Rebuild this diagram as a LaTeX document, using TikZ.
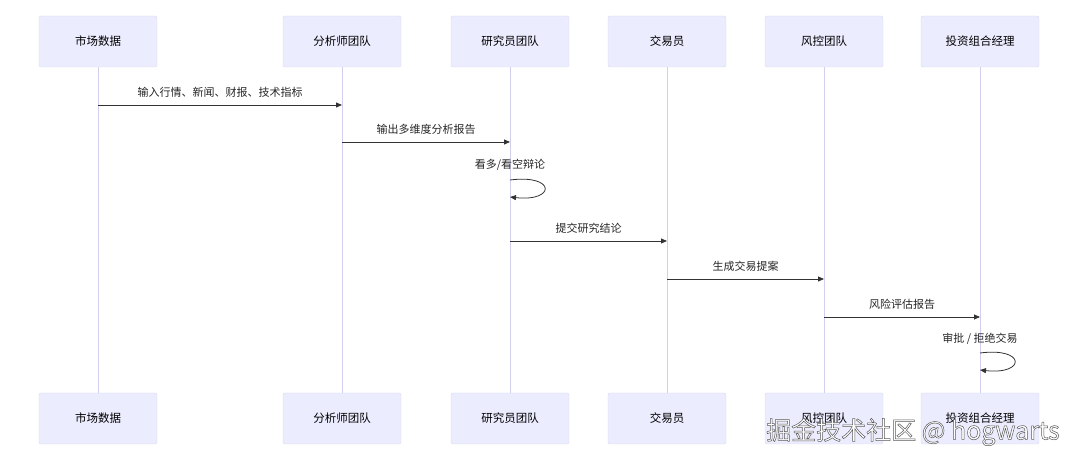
\documentclass[tikz,border=0pt]{standalone}
\usepackage{fontspec}
\newfontfamily\cjk{Noto Sans CJK SC}
\usetikzlibrary{positioning,arrows.meta}
\definecolor{boxfill}{HTML}{ECECFF}
\definecolor{boxline}{HTML}{D8D8F0}
\definecolor{lifeline}{HTML}{D0D0EE}
\definecolor{msgline}{HTML}{333333}
\tikzset{
	actor/.style={draw=boxline,fill=boxfill,rounded corners=2pt,minimum width=118pt,minimum height=51pt,font=\cjk\fontsize{11.5pt}{13pt}\selectfont,text=black},
	msg/.style={draw=msgline,line width=0.8pt,-{Triangle[length=6pt,width=5pt]}},
	lbl/.style={font=\cjk\fontsize{11pt}{13pt}\selectfont,text=black!85}
}
\begin{document}
\begin{tikzpicture}[x=1pt,y=-1pt]
	\useasboundingbox (0,0) rectangle (1080,462);
	\foreach \n/\x/\t in {mkt/98/市场数据,ana/342/分析师团队,res/510/研究员团队,trd/667/交易员,risk/824/风控团队,pm/980/投资组合经理}{
		\node[actor] (\n-top) at (\x,41.5) {\t};
		\node[actor] (\n-bot) at (\x,418.5) {\t};
		\draw[lifeline,line width=0.8pt] (\n-top) -- (\n-bot);
	}
	% messages
	\coordinate (m1a) at (98,105); \coordinate (m1b) at (342,105);
	\draw[msg] (m1a) -- node[lbl,above=4pt] {输入行情、新闻、财报、技术指标} (m1b);
	\coordinate (m2a) at (342,142); \coordinate (m2b) at (510,142);
	\draw[msg] (m2a) -- node[lbl,above=4pt] {输出多维度分析报告} (m2b);
	\coordinate (s1) at (510,180); \coordinate (s1e) at (510,197);
	\node[lbl] (s1l) at (510,165) {看多/看空辩论};
	\draw[msg] (s1) .. controls (556,174) and (556,202) .. (s1e);
	\coordinate (m3a) at (510,241); \coordinate (m3b) at (667,241);
	\draw[msg] (m3a) -- node[lbl,above=4pt] {提交研究结论} (m3b);
	\coordinate (m4a) at (667,279); \coordinate (m4b) at (824,279);
	\draw[msg] (m4a) -- node[lbl,above=4pt] {生成交易提案} (m4b);
	\coordinate (m5a) at (824,317); \coordinate (m5b) at (980,317);
	\draw[msg] (m5a) -- node[lbl,above=4pt] {风险评估报告} (m5b);
	\coordinate (s2) at (980,353); \coordinate (s2e) at (980,370);
	\node[lbl] (s2l) at (980,339) {审批 / 拒绝交易};
	\draw[msg] (s2) .. controls (1026,347) and (1026,375) .. (s2e);
	% watermark
	\node[font=\cjk\fontsize{25pt}{28pt}\selectfont,text=white,anchor=west,inner sep=0pt] (wm) at (766,432) {\special{pdf:literal 2 Tr 0.5 w 0.35 G}掘金技术社区 @ hogwarts\special{pdf:literal 0 Tr}};
\end{tikzpicture}
\end{document}
